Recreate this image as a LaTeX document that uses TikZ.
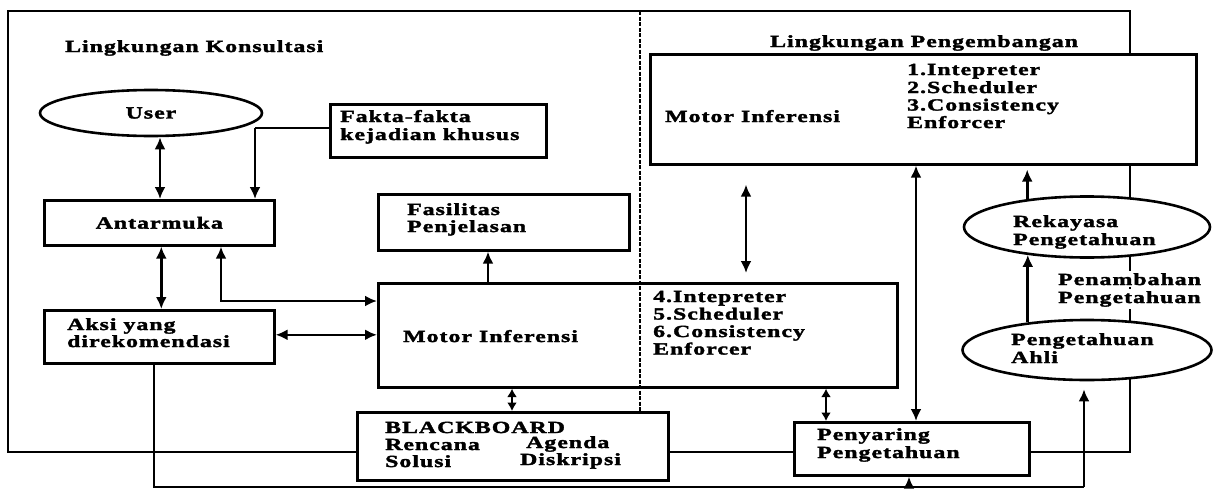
\documentclass[tikz,border=0pt]{standalone}
\usepackage{fontspec}
\usetikzlibrary{shapes.geometric,arrows.meta,calc}
\newfontfamily\dfam{Liberation Serif}[FakeStretch=1.4,LetterSpace=6,FakeBold=2]
\newcommand\dfont{\dfam\bfseries\fontsize{17}{17.7}\selectfont}
\tikzset{
  ln/.style={line width=2.6pt},
  box/.style={draw, line width=2.6pt, fill=white, rectangle, inner sep=0pt, anchor=north west, font=\dfont},
  oval/.style={draw, ellipse, line width=2.6pt, fill=white, inner sep=0pt, font=\dfont},
  txt/.style={anchor=base west, inner sep=0pt, font=\dfont},
  dbl/.style={line width=2.6pt, {Latex[length=12pt,width=11pt]}-{Latex[length=12pt,width=11pt]}},
  dblshort/.style={line width=2.6pt, {Latex[length=8.5pt,width=10pt]}-{Latex[length=8.5pt,width=10pt]}},
  arr/.style={line width=2.6pt, -{Latex[length=12pt,width=11pt]}},
  divider/.style={line width=1.5pt, dash pattern=on 4pt off 1.5pt},
}
\begin{document}
\begin{tikzpicture}[x=1pt,y=-1pt]
\fill[white] (0,0) rectangle (1224,490);
\useasboundingbox (0,0) rectangle (1224,490);
% outer frame
\coordinate (fTL) at (8,11);
\coordinate (fBR) at (1130,452);
\draw[ln] (fTL) rectangle (fBR);

% titles
\node[txt] (tK) at (65,52) {Lingkungan Konsultasi};
\node[txt] (tP) at (770,47) {Lingkungan Pengembangan};

% consultation side
\node[oval, minimum width=222pt, minimum height=46pt] (user) at (151,113) {User};
\node[box, minimum width=216pt, minimum height=53pt] (fakta) at (329,103) {};
\node[txt] (fakta1) at (340,122) {Fakta-fakta};
\node[txt] (fakta2) at (340,140) {kejadian khusus};
\node[box, minimum width=230pt, minimum height=45pt] (antar) at (43,199) {Antarmuka};
\node[box, minimum width=251pt, minimum height=56pt] (fasil) at (377,193) {};
\node[txt] (fasil1) at (407,215) {Fasilitas};
\node[txt] (fasil2) at (407,232) {Penjelasan};
\node[box, minimum width=230pt, minimum height=53pt] (aksi) at (43,309) {};
\node[txt] (aksi1) at (67,330) {Aksi yang};
\node[txt] (aksi2) at (67,347) {direkomendasi};
\node[box, minimum width=519pt, minimum height=104pt] (lmotor) at (377,282) {};
\node[txt] (lm0) at (403,342) {Motor Inferensi};
\node[txt] (lm1) at (653,302) {4.Intepreter};
\node[txt] (lm2) at (653,319.5) {5.Scheduler};
\node[txt] (lm3) at (653,337) {6.Consistency};
\node[txt] (lm4) at (653,354.5) {Enforcer};
\node[box, minimum width=311pt, minimum height=68pt] (bb) at (356,411) {};
\node[txt] (bb0) at (385,433) {BLACKBOARD};
\node[txt] (bb1) at (385,450) {Rencana};
\node[txt] (bb2) at (385,467) {Solusi};
\node[txt] (bb3) at (526,448) {Agenda};
\node[txt] (bb4) at (520,465) {Diskripsi};

% development side
\node[box, minimum width=546pt, minimum height=110pt] (umotor) at (649,53) {};
\node[txt] (um0) at (665,122) {Motor Inferensi};
\node[txt] (um1) at (907,75) {1.Intepreter};
\node[txt] (um2) at (907,93) {2.Scheduler};
\node[txt] (um3) at (907,110.5) {3.Consistency};
\node[txt] (um4) at (907,128) {Enforcer};
\node[box, minimum width=235pt, minimum height=53pt] (peny) at (793,421) {};
\node[txt] (peny1) at (817,440) {Penyaring};
\node[txt] (peny2) at (817,458) {Pengetahuan};
\node[oval, minimum width=246pt, minimum height=61pt] (rek) at (1087,227) {};
\node[txt] (rek1) at (1013,227) {Rekayasa};
\node[txt] (rek2) at (1013,245) {Pengetahuan};
\node[oval, minimum width=249pt, minimum height=60pt] (ahli) at (1087,350) {};
\node[txt] (ahli1) at (1011,345) {Pengetahuan};
\node[txt] (ahli2) at (1011,363) {Ahli};

% line between Rekayasa and Ahli (frame edge) with label
\draw[ln] (rek.south -| fBR) -- (ahli.north -| fBR);
\node[txt, fill=white, inner ysep=2pt] (pen1) at (1058,285) {Penambahan};
\node[txt, fill=white, inner ysep=2pt] (pen2) at (1058,303) {Pengetahuan};

% divider
\coordinate (dv) at (640,11);
\draw[divider] (dv) -- (dv |- bb.north);

% connectors, consultation side
\draw[dbl] ([xshift=9pt]user.south) -- ([xshift=9pt]user.south |- antar.north);
\coordinate (fk) at (255,128);
\draw[ln] (fakta.west |- fk) -- (fk);
\draw[arr] (fk) -- (fk |- antar.north);
\draw[dbl] ([xshift=2pt]antar.south) -- ([xshift=2pt]antar.south |- aksi.north);
\coordinate (ma) at (221,301);
\draw[dbl] (ma |- antar.south) -- (ma) -- (ma -| lmotor.west);
\draw[dbl] ([yshift=2pt]aksi.east) -- ([yshift=2pt]aksi.east -| lmotor.west);
\coordinate (mf) at (488,0);
\draw[arr] (mf |- lmotor.north) -- (mf |- fasil.south);
\coordinate (mb) at (512,0);
\draw[dblshort] (mb |- lmotor.south) -- (mb |- bb.north);

% connectors, development side
\coordinate (ul) at (746,0);
\draw[dbl, shorten <=19pt, shorten >=9pt] (ul |- umotor.south) -- (ul |- lmotor.north);
\coordinate (up) at (916,0);
\draw[dbl] (up |- umotor.south) -- (up |- peny.north);
\coordinate (lp) at (826,0);
\draw[dblshort] (lp |- lmotor.south) -- (lp |- peny.north);
\draw[arr, shorten >=4pt] (rek.155) -- (rek.155 |- umotor.south);
\draw[arr] (ahli.155) -- (ahli.155 |- rek.205);

% bottom feedback line
\coordinate (bl) at (154,487);
\coordinate (br) at (1084,487);
\coordinate (bp) at (909,487);
\draw[ln] (bl |- aksi.south) -- (bl) -- (br);
\draw[arr, shorten >=8pt] (br) -- (br |- ahli.south);
\draw[arr] (bp) -- (bp |- peny.south);
\end{tikzpicture}
\end{document}
